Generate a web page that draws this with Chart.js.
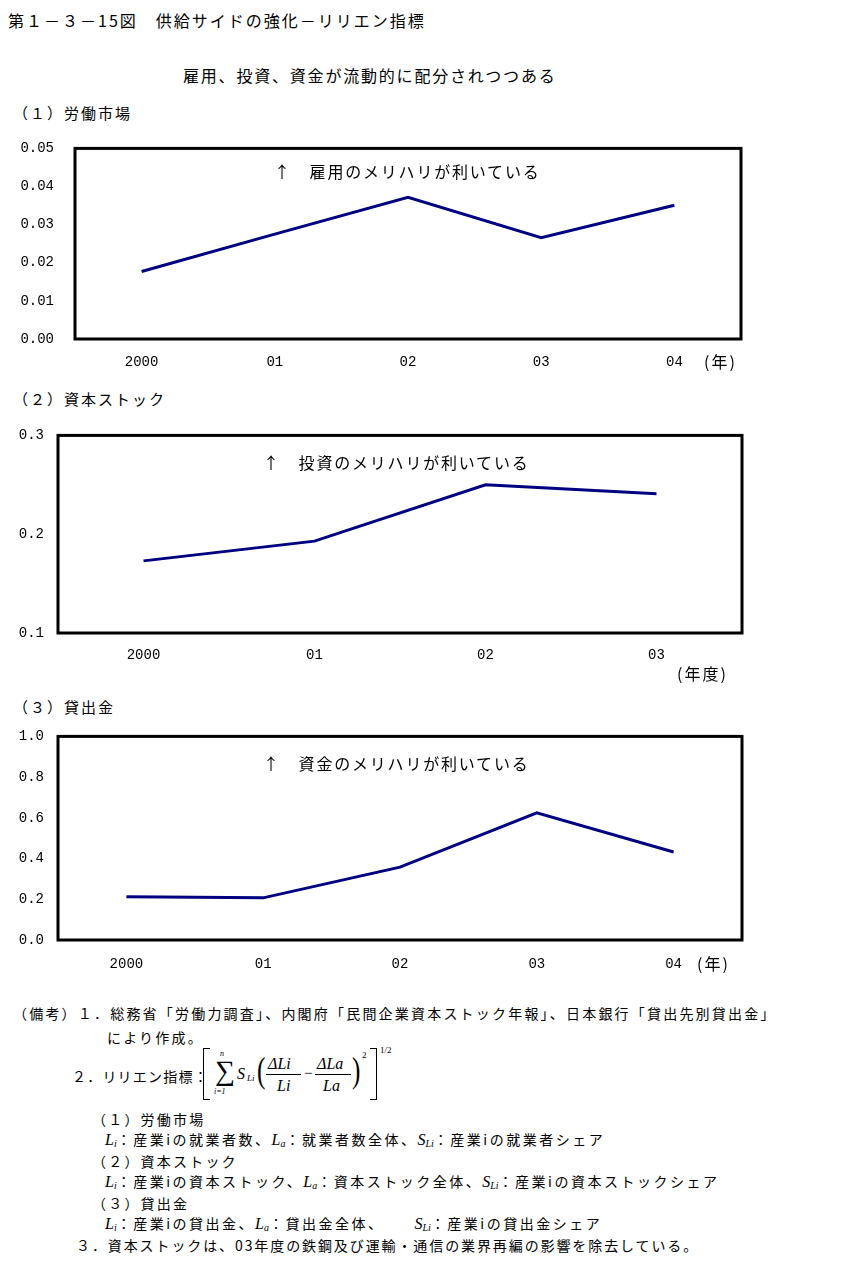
<!DOCTYPE html>
<html><head><meta charset="utf-8">
<script src="https://cdn.jsdelivr.net/npm/chart.js@4/dist/chart.umd.min.js"></script>
<style>
body{margin:0;background:#fff;width:841px;height:1262px;position:relative;overflow:hidden;font-family:"Noto Sans CJK JP",sans-serif;color:#000;}
.t{position:absolute;white-space:nowrap;line-height:1;}
.h{font-size:16px;letter-spacing:2px;}
.s{font-size:15px;letter-spacing:2px;}
.a{font-size:16px;letter-spacing:1.8px;}
.u{font-size:16px;letter-spacing:2px;}
.n{font-size:14px;letter-spacing:2.2px;}
.w{letter-spacing:2.5px;}
.m{font-family:"Liberation Serif",serif;font-style:italic;font-size:16px;letter-spacing:0;}
.m sub{font-size:10px;vertical-align:-2px;}
canvas{position:absolute;left:0;}
.f{position:absolute;left:200px;top:1046px;width:210px;height:60px;font-family:"Liberation Serif",serif;}
.f div{position:absolute;line-height:1;white-space:nowrap;}
.f .p{font-size:36px;transform:scaleX(0.7);transform-origin:left top;}
</style></head><body>

<div class="t h" style="left:8px;top:12px;">第１－３－15図　供給サイドの強化－リリエン指標</div>
<div class="t a" style="left:183px;top:67px;">雇用、投資、資金が流動的に配分されつつある</div>

<div class="t s" style="left:13px;top:105px;">（１）労働市場</div>
<canvas id="c1" width="841" height="260" style="top:119px;"></canvas>
<div class="t a" style="left:274px;top:163px;">↑　雇用のメリハリが利いている</div>
<div class="t u" style="left:704px;top:353px;">(年)</div>

<div class="t s" style="left:13px;top:391px;">（２）資本ストック</div>
<canvas id="c2" width="841" height="257" style="top:413px;"></canvas>
<div class="t a" style="left:263px;top:454px;">↑　投資のメリハリが利いている</div>
<div class="t u" style="left:677px;top:665px;">(年度)</div>

<div class="t s" style="left:13px;top:699px;">（３）貸出金</div>
<canvas id="c3" width="841" height="263" style="top:714px;"></canvas>
<div class="t a" style="left:263px;top:755px;">↑　資金のメリハリが利いている</div>
<div class="t u" style="left:697px;top:955px;">(年)</div>

<div class="t n" style="left:13px;top:1006px;">（備考）１．総務省「労働力調査」、内閣府「民間企業資本ストック年報」、日本銀行「貸出先別貸出金」</div>
<div class="t n" style="left:107px;top:1030px;">により作成。</div>
<div class="t n" style="left:72px;top:1069px;letter-spacing:1.2px;">２．リリエン指標：</div>
<div class="f">
  <div style="left:3px;top:2px;width:6px;height:50px;border:1.5px solid #000;border-right:none;"></div>
  <div style="left:20px;top:4px;font-size:8px;font-style:italic;">n</div>
  <div style="left:15px;top:11px;font-size:28px;">&#8721;</div>
  <div style="left:14px;top:42px;font-size:8px;font-style:italic;">i=1</div>
  <div style="left:37px;top:20px;font-size:16px;font-style:italic;">S</div>
  <div style="left:47px;top:28px;font-size:9px;font-style:italic;">Li</div>
  <div class="p" style="left:57px;top:6px;">(</div>
  <div style="left:68px;top:10px;font-size:16px;font-style:italic;">ΔLi</div>
  <div style="left:66px;top:28px;width:35px;border-top:1px solid #000;"></div>
  <div style="left:77px;top:32px;font-size:16px;font-style:italic;">Li</div>
  <div style="left:104px;top:20px;font-size:15px;">−</div>
  <div style="left:117px;top:10px;font-size:16px;font-style:italic;">ΔLa</div>
  <div style="left:115px;top:28px;width:36px;border-top:1px solid #000;"></div>
  <div style="left:123px;top:32px;font-size:16px;font-style:italic;">La</div>
  <div class="p" style="left:152px;top:6px;">)</div>
  <div style="left:162px;top:5px;font-size:9px;">2</div>
  <div style="left:170px;top:2px;width:6px;height:50px;border:1.5px solid #000;border-left:none;"></div>
  <div style="left:180px;top:0px;font-size:9px;">1/2</div>
</div>
<div class="t n" style="left:92px;top:1112px;">（１）労働市場</div>
<div class="t n w" style="left:105px;top:1132px;"><span class="m">L<sub>i</sub></span>：産業iの就業者数、<span class="m">L<sub>a</sub></span>：就業者数全体、<span class="m">S<sub>Li</sub></span>：産業iの就業者シェア</div>
<div class="t n" style="left:92px;top:1154px;">（２）資本ストック</div>
<div class="t n w" style="left:105px;top:1174px;"><span class="m">L<sub>i</sub></span>：産業iの資本ストック、<span class="m">L<sub>a</sub></span>：資本ストック全体、<span class="m">S<sub>Li</sub></span>：産業iの資本ストックシェア</div>
<div class="t n" style="left:92px;top:1196px;">（３）貸出金</div>
<div class="t n w" style="left:105px;top:1216px;"><span class="m">L<sub>i</sub></span>：産業iの貸出金、<span class="m">L<sub>a</sub></span>：貸出金全体、<span style="display:inline-block;width:30px;"></span><span class="m">S<sub>Li</sub></span>：産業iの貸出金シェア</div>
<div class="t n" style="left:76px;top:1238px;letter-spacing:1.9px;">３．資本ストックは、03年度の鉄鋼及び運輸・通信の業界再編の影響を除去している。</div>

<script>
// ---- data ----
const laborYears = ['2000', '01', '02', '03', '04'];
const laborValues = [0.0177, 0.0275, 0.0372, 0.0266, 0.0351];
const capitalYears = ['2000', '01', '02', '03'];
const capitalValues = [0.173, 0.193, 0.250, 0.241];
const loanYears = ['2000', '01', '02', '03', '04'];
const loanValues = [0.212, 0.207, 0.358, 0.625, 0.432];

const boxPlugin = {
  id: 'box',
  afterDatasetsDraw(chart) {
    const a = chart.chartArea, ctx = chart.ctx;
    ctx.save();
    ctx.strokeStyle = '#000';
    ctx.lineWidth = 3;
    ctx.strokeRect(a.left, a.top, a.right - a.left, a.bottom - a.top);
    ctx.restore();
  }
};

const tickFont = { family: 'Liberation Mono', size: 14 };

function makeChart(id, labels, values, yMin, yMax, step, decimals, cfg) {
  return new Chart(document.getElementById(id), {
    type: 'line',
    data: { labels: labels, datasets: [{ data: values, borderColor: '#000080', borderWidth: 3, pointRadius: 0, tension: 0, fill: false }] },
    options: {
      responsive: false, animation: false, devicePixelRatio: 1,
      layout: { padding: { top: cfg.padTop, right: cfg.padRight, left: 0, bottom: 0 }, autoPadding: false },
      plugins: { legend: { display: false }, tooltip: { enabled: false } },
      scales: {
        x: {
          offset: true,
          grid: { display: false, drawTicks: false },
          border: { display: false },
          ticks: { font: tickFont, color: '#000', padding: cfg.xPad, maxRotation: 0, autoSkip: false },
          afterFit(s) { s.height = cfg.xH; }
        },
        y: {
          min: yMin, max: yMax,
          grid: { display: false, drawTicks: false },
          border: { display: false },
          ticks: { stepSize: step, font: tickFont, color: '#000', padding: cfg.yPad, callback: v => Number(v).toFixed(decimals) },
          afterFit(s) { s.width = cfg.yW; }
        }
      }
    },
    plugins: [boxPlugin]
  });
}

makeChart('c1', laborYears, laborValues, 0, 0.05, 0.01, 2, { padTop: 12, padRight: 100, yW: 75, xH: 40, yPad: 21, xPad: 15 });
makeChart('c2', capitalYears, capitalValues, 0.1, 0.3, 0.1, 1, { padTop: 14, padRight: 99, yW: 58, xH: 37, yPad: 14, xPad: 14 });
makeChart('c3', loanYears, loanValues, 0, 1.0, 0.2, 1, { padTop: 14, padRight: 99, yW: 58, xH: 37, yPad: 14, xPad: 16 });
</script>
</body></html>
